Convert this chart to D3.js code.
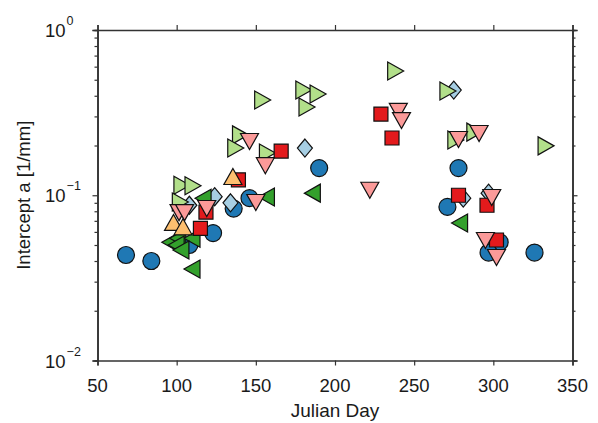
<!DOCTYPE html>
<html>
<head>
<meta charset="utf-8">
<script src="https://cdn.jsdelivr.net/npm/d3@7"></script>
<style>
  body { margin: 0; background: #fff; }
  svg { display: block; font-family: "Liberation Sans", Arial, Helvetica, sans-serif; }
</style>
</head>
<body>
<div id="chart"></div>
<script>
// Intercept a vs Julian Day (log scale)

const xTicks = [50, 100, 150, 200, 250, 300, 350]
const yDecades = [-2, -1, 0]

// blue circles
const circleDays = [68, 84, 108, 123, 136, 146, 190, 278, 271, 304, 297, 326]
const circleVals = [0.0435, 0.040, 0.050, 0.059, 0.083, 0.096, 0.146, 0.146, 0.085, 0.052, 0.045, 0.045]

// light blue diamonds
const diamondDays = [181, 124, 134, 108, 275, 281, 297]
const diamondVals = [0.193, 0.098, 0.090, 0.087, 0.433, 0.096, 0.103]

// light green right-pointing triangles
const rightDays = [154, 180, 189, 182, 140, 137, 157, 103, 110, 102, 238, 271, 276, 288, 333]
const rightVals = [0.377, 0.434, 0.410, 0.342, 0.232, 0.193, 0.180, 0.115, 0.114, 0.091, 0.565, 0.428, 0.216, 0.241, 0.199]

// dark green left-pointing triangles
const leftDays = [117, 157, 186, 279, 96, 101, 110, 100, 103, 110]
const leftVals = [0.096, 0.0976, 0.103, 0.068, 0.052, 0.055, 0.055, 0.050, 0.0466, 0.0358]

// red squares
const squareDays = [139, 166, 118.5, 115, 229, 236, 278, 296, 302]
const squareVals = [0.124, 0.185, 0.079, 0.063, 0.310, 0.222, 0.100, 0.087, 0.0536]

// pink down-pointing triangles
const downDays = [146, 156, 150, 119, 101.5, 105, 240, 242, 278, 291, 222, 299, 295, 302]
const downVals = [0.213, 0.152, 0.091, 0.0837, 0.079, 0.079, 0.324, 0.285, 0.219, 0.238, 0.108, 0.0976, 0.0536, 0.0423]

// orange up-pointing triangles
const upDays = [135.5, 98, 104]
const upVals = [0.129, 0.068, 0.064]

const width = 598
const height = 423
const margin = { top: 30, right: 25.5, bottom: 62.5, left: 97.5 }
const innerW = width - margin.left - margin.right
const innerH = height - margin.top - margin.bottom

const svg = d3.select("#chart").append("svg").attr("width", width).attr("height", height)

const g = svg.append("g").attr("transform", `translate(${margin.left},${margin.top})`)

const x = d3.scaleLinear().domain([50, 350]).range([0, innerW])
const y = d3.scaleLog().domain([0.01, 1]).range([innerH, 0])

const axisColor = "#333"

// marker shapes, drawn around the point
const shapes = {
  circle: () => "M-8.5,0A8.5,8.5 0 1,0 8.5,0A8.5,8.5 0 1,0 -8.5,0Z",
  diamond: () => "M0,-9L7.5,0L0,9L-7.5,0Z",
  right: () => "M-7.5,-9L8.5,0L-7.5,9Z",
  left: () => "M7.5,-9L-8.5,0L7.5,9Z",
  square: () => "M-7,-7H7V7H-7Z",
  down: () => "M-9,-7.5H9L0,8.5Z",
  up: () => "M-9,7.5H9L0,-8.5Z",
}

const series = [
  { days: circleDays, vals: circleVals, shape: "circle", color: "#1f78b4" },
  { days: diamondDays, vals: diamondVals, shape: "diamond", color: "#a6cee3" },
  { days: rightDays, vals: rightVals, shape: "right", color: "#b2df8a" },
  { days: leftDays, vals: leftVals, shape: "left", color: "#33a02c" },
  { days: squareDays, vals: squareVals, shape: "square", color: "#e31a1c" },
  { days: downDays, vals: downVals, shape: "down", color: "#fb9a99" },
  { days: upDays, vals: upVals, shape: "up", color: "#fdbf6f" },
]

// Axes (ticks pointing outward on all four sides)
const xBottom = d3.axisBottom(x).tickValues(xTicks).tickSize(5).tickFormat("")
const xTop = d3.axisTop(x).tickValues(xTicks).tickSize(5).tickFormat("")

const minorVals = []
yDecades.forEach((e) => {
  if (e < 0) for (let k = 2; k <= 9; k++) minorVals.push(k * Math.pow(10, e))
})
const majorVals = yDecades.map((e) => Math.pow(10, e))

g.append("g").attr("transform", `translate(0,${innerH})`).call(xBottom)
g.append("g").call(xTop)
g.append("g").call(d3.axisLeft(y).tickValues(majorVals).tickSize(5).tickFormat(""))
g.append("g").call(d3.axisLeft(y).tickValues(minorVals).tickSize(3).tickFormat(""))
g.append("g").attr("transform", `translate(${innerW},0)`).call(d3.axisRight(y).tickValues(majorVals).tickSize(5).tickFormat(""))
g.append("g").attr("transform", `translate(${innerW},0)`).call(d3.axisRight(y).tickValues(minorVals).tickSize(3).tickFormat(""))

g.selectAll(".domain").attr("stroke", axisColor).attr("stroke-width", 1.6)
g.selectAll(".tick line").attr("stroke", axisColor).attr("stroke-width", 1.2)

// x tick labels
g.selectAll(".x-label")
  .data(xTicks)
  .enter()
  .append("text")
  .attr("class", "x-label")
  .attr("x", (d) => x(d))
  .attr("y", innerH + 31)
  .attr("text-anchor", "middle")
  .style("font-size", "18.5px")
  .style("fill", "#1a1a1a")
  .text((d) => d)

// y tick labels as 10^n
const yLab = g
  .selectAll(".y-label")
  .data(yDecades)
  .enter()
  .append("text")
  .attr("class", "y-label")
  .attr("x", 45 - margin.left)
  .attr("y", (d) => y(Math.pow(10, d)) + 7)
  .style("font-size", "18.5px")
  .style("fill", "#1a1a1a")

yLab.append("tspan").text("10")
yLab
  .append("tspan")
  .attr("dy", -12)
  .attr("dx", 1)
  .style("font-size", "12.5px")
  .text((d) => (d < 0 ? "\u2212" + -d : d))

// axis titles
g.append("text")
  .attr("x", innerW / 2)
  .attr("y", innerH + 56)
  .attr("text-anchor", "middle")
  .style("font-size", "19px")
  .style("fill", "#1a1a1a")
  .text("Julian Day")

g.append("text")
  .attr("transform", `translate(${30 - margin.left},${innerH / 2}) rotate(-90)`)
  .attr("text-anchor", "middle")
  .style("font-size", "18.5px")
  .style("fill", "#1a1a1a")
  .text("Intercept a [1/mm]")

// markers
series.forEach((s) => {
  g.append("g")
    .selectAll("path")
    .data(s.days.map((d, i) => ({ day: d, val: s.vals[i] })))
    .enter()
    .append("path")
    .attr("transform", (d) => `translate(${x(d.day)},${y(d.val)})`)
    .attr("d", shapes[s.shape]())
    .style("fill", s.color)
    .style("stroke", "#111")
    .style("stroke-width", 1.2)
})
</script>
</body>
</html>
